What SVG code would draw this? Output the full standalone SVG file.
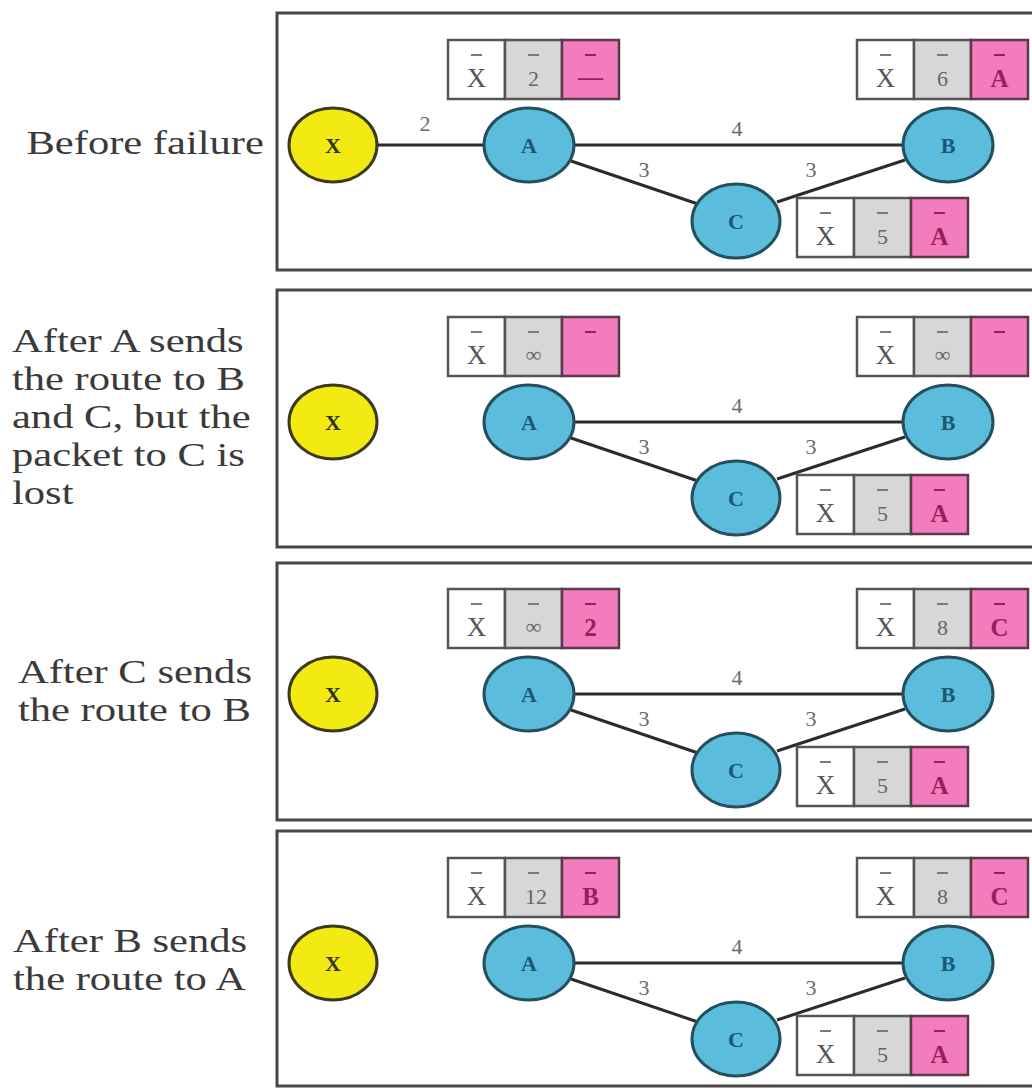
<svg xmlns="http://www.w3.org/2000/svg" width="1032" height="1089" viewBox="0 0 1032 1089">
  <style>
    .frame { fill: #ffffff; stroke: #474747; stroke-width: 3; }
    .caption { font-family: "Liberation Serif", "Times New Roman", serif; font-size: 33px; fill: #3a3a3a; }
    .nx { fill: #f3ea14; stroke: #3b3a1c; stroke-width: 3; }
    .nr { fill: #5cbcdc; stroke: #23505f; stroke-width: 3; }
    .nlab { font-family: "Liberation Serif", "Times New Roman", serif; font-size: 22px; font-weight: bold; text-anchor: middle; }
    .nlx { fill: #333322; }
    .nlr { fill: #1d5872; }
    .edge { stroke: #2b2b2b; stroke-width: 3; fill: none; }
    .elab { font-family: "Liberation Serif", "Times New Roman", serif; font-size: 22px; fill: #6a6a6a; text-anchor: middle; }
    .c1 { fill: #ffffff; stroke: #555555; stroke-width: 2.5; }
    .c2 { fill: #d7d7d7; stroke: #555555; stroke-width: 2.5; }
    .c3 { fill: #f27cbc; stroke: #5a3a48; stroke-width: 2.5; }
    .tx { font-family: "Liberation Serif", "Times New Roman", serif; font-size: 27px; fill: #555555; text-anchor: middle; }
    .tv { font-family: "Liberation Serif", "Times New Roman", serif; font-size: 22px; fill: #666666; text-anchor: middle; }
    .tp { font-family: "Liberation Serif", "Times New Roman", serif; font-size: 25px; font-weight: bold; fill: #a01a62; text-anchor: middle; }
    .bar { stroke: #7a7a7a; stroke-width: 2; }
    .barp { stroke: #a01a62; stroke-width: 2; }
  </style>
  <defs>
    <!-- one routing-table entry: destination / distance / next hop -->
    <g id="cells">
      <rect class="c1" x="0" y="0" width="57" height="59"/>
      <rect class="c2" x="57" y="0" width="57" height="59"/>
      <rect class="c3" x="114" y="0" width="57" height="59"/>
      <line class="bar" x1="23" y1="15" x2="34" y2="15"/>
      <line class="bar" x1="80" y1="15" x2="91" y2="15"/>
      <line class="barp" x1="137" y1="15" x2="148" y2="15"/>
      <text class="tx" x="28.5" y="47">X</text>
    </g>
  </defs>

  <rect width="1032" height="1089" fill="#ffffff"/>

  <!-- step captions, set in a horizontally widened serif -->
  <g id="captions" transform="scale(1.29 1)">
    <text class="caption" x="20.5" y="154">Before failure</text>
    <text class="caption" x="9.3" y="352">After A sends</text>
    <text class="caption" x="9.3" y="390">the route to B</text>
    <text class="caption" x="9.3" y="428">and C, but the</text>
    <text class="caption" x="9.3" y="466">packet to C is</text>
    <text class="caption" x="9.3" y="504">lost</text>
    <text class="caption" x="13.9" y="683">After C sends</text>
    <text class="caption" x="13.9" y="721">the route to B</text>
    <text class="caption" x="10.1" y="952">After B sends</text>
    <text class="caption" x="10.1" y="990">the route to A</text>
  </g>

  <!-- panel frames -->
  <g id="frames">
    <rect class="frame" x="277" y="13" width="770" height="257"/>
    <rect class="frame" x="277" y="290" width="770" height="257"/>
    <rect class="frame" x="277" y="563" width="770" height="257"/>
    <rect class="frame" x="277" y="831" width="770" height="255"/>
  </g>

  <!-- links between routers -->
  <g id="connectors">
    <!-- panel 1 -->
    <line class="edge" x1="378" y1="145" x2="484" y2="145"/>
    <text class="elab" x="425" y="131">2</text>
    <line class="edge" x1="574" y1="145" x2="904" y2="145"/>
    <text class="elab" x="737" y="136">4</text>
    <line class="edge" x1="571" y1="161" x2="698" y2="204"/>
    <text class="elab" x="644" y="177">3</text>
    <line class="edge" x1="777" y1="202" x2="905" y2="160"/>
    <text class="elab" x="811" y="177">3</text>
    <!-- panel 2 -->
    <g transform="translate(0 277)">
      <line class="edge" x1="574" y1="145" x2="904" y2="145"/>
      <text class="elab" x="737" y="136">4</text>
      <line class="edge" x1="571" y1="161" x2="698" y2="204"/>
      <text class="elab" x="644" y="177">3</text>
      <line class="edge" x1="777" y1="202" x2="905" y2="160"/>
      <text class="elab" x="811" y="177">3</text>
    </g>
    <!-- panel 3 -->
    <g transform="translate(0 549)">
      <line class="edge" x1="574" y1="145" x2="904" y2="145"/>
      <text class="elab" x="737" y="136">4</text>
      <line class="edge" x1="571" y1="161" x2="698" y2="204"/>
      <text class="elab" x="644" y="177">3</text>
      <line class="edge" x1="777" y1="202" x2="905" y2="160"/>
      <text class="elab" x="811" y="177">3</text>
    </g>
    <!-- panel 4 -->
    <g transform="translate(0 818)">
      <line class="edge" x1="574" y1="145" x2="904" y2="145"/>
      <text class="elab" x="737" y="136">4</text>
      <line class="edge" x1="571" y1="161" x2="698" y2="204"/>
      <text class="elab" x="644" y="177">3</text>
      <line class="edge" x1="777" y1="202" x2="905" y2="160"/>
      <text class="elab" x="811" y="177">3</text>
    </g>
  </g>

  <!-- panel 1: before failure -->
  <g id="panel1">
    <g id="p1-X"><ellipse class="nx" cx="333" cy="145" rx="44" ry="37"/><text class="nlab nlx" x="333" y="153">X</text></g>
    <g id="p1-A"><ellipse class="nr" cx="529" cy="145" rx="45" ry="37"/><text class="nlab nlr" x="529" y="153">A</text></g>
    <g id="p1-B"><ellipse class="nr" cx="948" cy="145" rx="45" ry="37"/><text class="nlab nlr" x="948" y="153">B</text></g>
    <g id="p1-C"><ellipse class="nr" cx="736" cy="221" rx="44" ry="37"/><text class="nlab nlr" x="736" y="229">C</text></g>
    <g id="p1-tA" transform="translate(448 40)"><use href="#cells"/><text class="tv" x="85.5" y="46">2</text><text class="tp" x="142.5" y="45">—</text></g>
    <g id="p1-tB" transform="translate(857 40)"><use href="#cells"/><text class="tv" x="85.5" y="46">6</text><text class="tp" x="142.5" y="47">A</text></g>
    <g id="p1-tC" transform="translate(797 198)"><use href="#cells"/><text class="tv" x="85.5" y="46">5</text><text class="tp" x="142.5" y="47">A</text></g>
  </g>

  <!-- panel 2: A's update reaches B only -->
  <g id="panel2" transform="translate(0 277)">
    <g id="p2-X"><ellipse class="nx" cx="333" cy="145" rx="44" ry="37"/><text class="nlab nlx" x="333" y="153">X</text></g>
    <g id="p2-A"><ellipse class="nr" cx="529" cy="145" rx="45" ry="37"/><text class="nlab nlr" x="529" y="153">A</text></g>
    <g id="p2-B"><ellipse class="nr" cx="948" cy="145" rx="45" ry="37"/><text class="nlab nlr" x="948" y="153">B</text></g>
    <g id="p2-C"><ellipse class="nr" cx="736" cy="221" rx="44" ry="37"/><text class="nlab nlr" x="736" y="229">C</text></g>
    <g id="p2-tA" transform="translate(448 40)"><use href="#cells"/><text class="tv" x="85.5" y="45">∞</text></g>
    <g id="p2-tB" transform="translate(857 40)"><use href="#cells"/><text class="tv" x="85.5" y="45">∞</text></g>
    <g id="p2-tC" transform="translate(797 198)"><use href="#cells"/><text class="tv" x="85.5" y="46">5</text><text class="tp" x="142.5" y="47">A</text></g>
  </g>

  <!-- panel 3: C advertises to B -->
  <g id="panel3" transform="translate(0 549)">
    <g id="p3-X"><ellipse class="nx" cx="333" cy="145" rx="44" ry="37"/><text class="nlab nlx" x="333" y="153">X</text></g>
    <g id="p3-A"><ellipse class="nr" cx="529" cy="145" rx="45" ry="37"/><text class="nlab nlr" x="529" y="153">A</text></g>
    <g id="p3-B"><ellipse class="nr" cx="948" cy="145" rx="45" ry="37"/><text class="nlab nlr" x="948" y="153">B</text></g>
    <g id="p3-C"><ellipse class="nr" cx="736" cy="221" rx="44" ry="37"/><text class="nlab nlr" x="736" y="229">C</text></g>
    <g id="p3-tA" transform="translate(448 40)"><use href="#cells"/><text class="tv" x="85.5" y="45">∞</text><text class="tp" x="142.5" y="47">2</text></g>
    <g id="p3-tB" transform="translate(857 40)"><use href="#cells"/><text class="tv" x="85.5" y="46">8</text><text class="tp" x="142.5" y="47">C</text></g>
    <g id="p3-tC" transform="translate(797 198)"><use href="#cells"/><text class="tv" x="85.5" y="46">5</text><text class="tp" x="142.5" y="47">A</text></g>
  </g>

  <!-- panel 4: B advertises to A -->
  <g id="panel4" transform="translate(0 818)">
    <g id="p4-X"><ellipse class="nx" cx="333" cy="145" rx="44" ry="37"/><text class="nlab nlx" x="333" y="153">X</text></g>
    <g id="p4-A"><ellipse class="nr" cx="529" cy="145" rx="45" ry="37"/><text class="nlab nlr" x="529" y="153">A</text></g>
    <g id="p4-B"><ellipse class="nr" cx="948" cy="145" rx="45" ry="37"/><text class="nlab nlr" x="948" y="153">B</text></g>
    <g id="p4-C"><ellipse class="nr" cx="736" cy="221" rx="44" ry="37"/><text class="nlab nlr" x="736" y="229">C</text></g>
    <g id="p4-tA" transform="translate(448 40)"><use href="#cells"/><text class="tv" x="88" y="46">12</text><text class="tp" x="142.5" y="47">B</text></g>
    <g id="p4-tB" transform="translate(857 40)"><use href="#cells"/><text class="tv" x="85.5" y="46">8</text><text class="tp" x="142.5" y="47">C</text></g>
    <g id="p4-tC" transform="translate(797 198)"><use href="#cells"/><text class="tv" x="85.5" y="46">5</text><text class="tp" x="142.5" y="47">A</text></g>
  </g>
</svg>
